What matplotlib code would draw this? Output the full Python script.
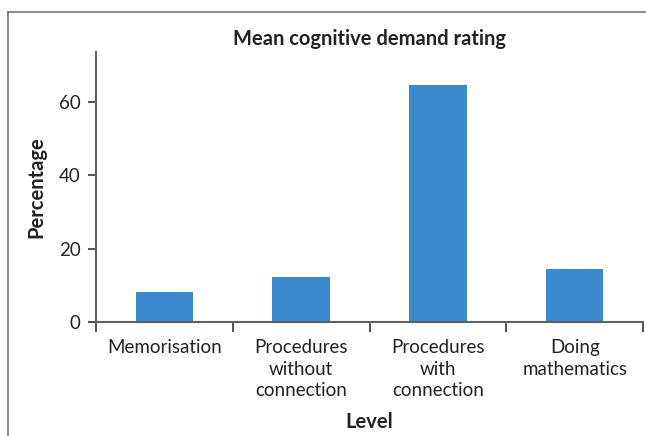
import matplotlib
matplotlib.use("Agg")
import matplotlib.pyplot as plt
from matplotlib.lines import Line2D
import numpy as np

# data
categories = ["Memorisation", "Procedures\nwithout\nconnection", "Procedures\nwith\nconnection", "Doing\nmathematics"]
percentages = [8.3, 12.3, 64.6, 14.5]
y_ticks = [0, 20, 40, 60]

plt.rcParams["font.family"] = ["Lato", "DejaVu Sans"]

fig = plt.figure(figsize=(6.46, 4.36), dpi=100)
ax = fig.add_axes([96 / 646, 114 / 436, 547 / 646, 270 / 436])

x = np.arange(len(categories))
ax.bar(x, percentages, width=0.42, color="#3A8ACD", zorder=2)

ax.set_xlim(-0.5, len(categories) - 0.5)
ax.set_ylim(0, 73.6)
ax.set_yticks(y_ticks)
ax.set_xticks(x)
ax.set_xticklabels(categories, fontsize=13.5, color="#222222", linespacing=1.35)
ax.set_xticks(np.arange(len(categories) + 1) - 0.5, minor=True)
ax.tick_params(axis="x", which="major", length=0, pad=12)
ax.tick_params(axis="x", which="minor", length=7, width=1.2, color="#333333", direction="out")
ax.tick_params(axis="y", length=6, width=1.2, color="#333333", labelsize=13.5, labelcolor="#222222", pad=5)

for side in ("top", "right"):
    ax.spines[side].set_visible(False)
for side in ("left", "bottom"):
    ax.spines[side].set_color("#606060")
    ax.spines[side].set_linewidth(1.5)

ax.set_title("Mean cognitive demand rating", fontsize=14.5, fontweight="bold", color="#222222", pad=5)
ax.set_ylabel("Percentage", fontsize=14.5, fontweight="bold", color="#222222", labelpad=9)
ax.set_xlabel("Level", fontsize=14.5, fontweight="bold", color="#222222")
ax.xaxis.set_label_coords(0.5, -0.335)

# outer frame (left and top edges visible)
fig.add_artist(Line2D([8 / 646, 8 / 646], [0, 1 - 12 / 436], transform=fig.transFigure, color="#777777", lw=1.2))
fig.add_artist(Line2D([8 / 646, 1], [1 - 12 / 436, 1 - 12 / 436], transform=fig.transFigure, color="#777777", lw=1.2))

fig.savefig("out.png", dpi=100)
